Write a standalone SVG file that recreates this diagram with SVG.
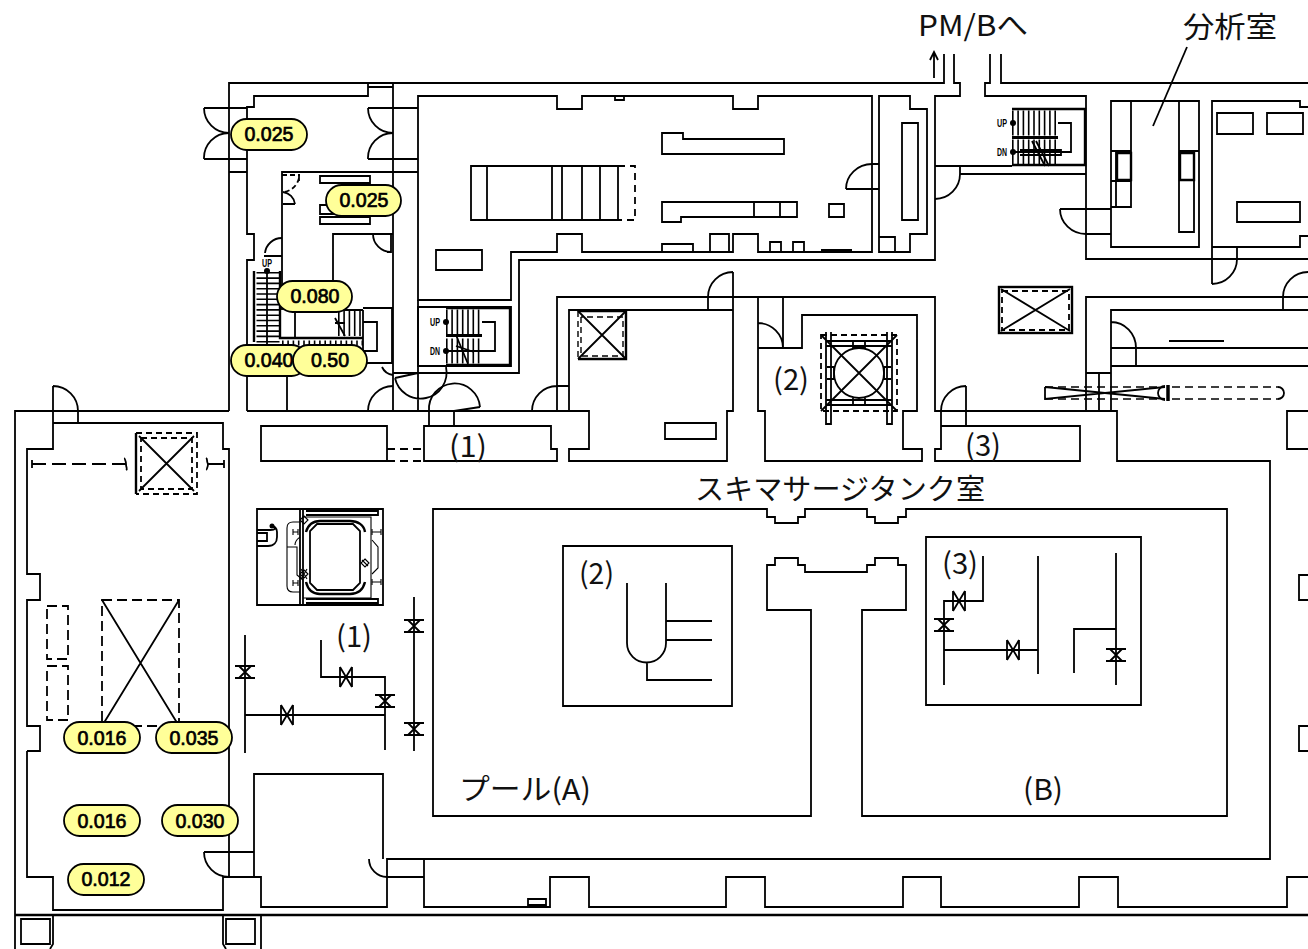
<svg xmlns="http://www.w3.org/2000/svg" width="1308" height="949" viewBox="0 0 1308 949">
<style>
.w{fill:none;stroke:#000;stroke-width:1.8}
.h{fill:none;stroke:#000;stroke-width:2.4}
.t{fill:none;stroke:#000;stroke-width:1.1}
.d{fill:none;stroke:#000;stroke-width:1.8;stroke-dasharray:8 5}
.tr{fill:none;stroke:#000;stroke-dasharray:1.6 3.7}
.p{fill:#ffff99;stroke:#000;stroke-width:1.8}
.v{font-family:"Liberation Sans",Arial,sans-serif;font-size:19.6px;text-anchor:middle;fill:#000;stroke:#000;stroke-width:.7}
.l{font-family:"Noto Sans CJK JP","Liberation Sans",sans-serif;font-size:29px;fill:#111}
.s{font-family:"Liberation Sans",Arial,sans-serif;font-weight:700;font-size:10px;fill:#000;text-anchor:middle}
</style>
<defs>
<g id="vv"><path class="w" d="M-10 -6H10M-10 6H10M-6 -6L6 6M6 -6L-6 6"/></g>
<g id="vh"><path class="w" d="M-6 -10V10M6 -10V10M-6 -10L6 10M-6 10L6 -10"/></g>
</defs>
<rect width="1308" height="949" fill="#fff"/>

<g id="walls">
<path class="w" d="M229 411V83H944V54M954 54V83H960V96H935V260H519V373H393M1001 54V83H1308M990 54V83H985V96H1086V259H1308"/>
<path class="w" d="M935 166H1012M960 166V174H1086M935 199A25 25 0 0 0 960 174"/>
<path class="w" d="M393 83V411M368 83V96H254V107H247V234H254V260H247V411M368 87H393"/>
<path class="w" d="M229 172H247M393 172H418M204 108H247M204 159H247M368 108H418M368 159H418"/>
<path class="w" d="M204 108A25 25 0 0 0 229 133M204 159A25 25 0 0 1 229 133M368 108A25 25 0 0 0 393 133M368 159A25 25 0 0 1 393 133"/>
<path class="w" d="M418 96H557V109H582V96H733V109H758V96H872V252H758V234H733V252H582V234H557V252H511V300H418Z"/>
<path class="w" d="M471 166H618V220H471ZM487 166V220M552 166V220M562 166V220M582 166V220M600 166V220"/>
<path class="d" style="stroke-dasharray:7 5" d="M618 166H635V220H618"/>
<path class="w" d="M662 133H683V139H784V154H662ZM662 202H797V217H681V222H662ZM754 202V217M780 202V217M829 204H844V217H829ZM436 250H482V270H436ZM662 244H693V252H662ZM710 234H729V252H710ZM770 242H781V252H770ZM793 242H804V252H793ZM615 96H624V100H615Z"/>
<rect x="821" y="249" width="31" height="3"/>
<path class="w" d="M879 96H910V109H927V234H910V252H879ZM902 123H918V220H902ZM879 237H895V252H879Z"/>
<path class="w" d="M846 189H879M872 164H879M846 189A26 25 0 0 1 872 164"/>
<path class="w" d="M1111 101H1199V247H1111ZM1131 101V207H1111M1111 151H1131M1111 181H1131M1116 152V207M1179 101V232H1194V151M1179 151H1199"/>
<path class="h" d="M1117 153H1131V180H1117ZM1180 153H1194V180H1180Z"/>
<path class="w" d="M1060 209H1111M1086 234H1111M1060 209A26 25 0 0 0 1086 234"/>
<path class="w" d="M1187 47L1153 126"/>
<path class="w" d="M1308 107H1300V101H1212V284M1212 247H1300V236H1308M1217 113H1253V134H1217ZM1267 113H1303V134H1267ZM1237 202H1300V222H1237ZM1237 247V259M1237 259A25 25 0 0 1 1212 284"/>
<path class="w" d="M520 411H557V297H935V411H1117M569 310H733V411H727V461H569V449H589V411H569ZM708 297V310M733 272V310M708 297A25 25 0 0 1 733 272M532 411A25 25 0 0 1 557 386M557 386H569"/>
<path class="w" d="M665 423H716V439H665Z"/>
<path class="w" d="M758 297V411H765V461H922V449H903V411H917V315H802V348H758M783 297V348M758 323A25 25 0 0 1 783 348"/>
<path class="h" d="M578 311H626V359H578"/>
<path class="w" d="M578 311L626 359M626 311L578 359"/>
<path class="d" style="stroke-width:1.4;stroke-dasharray:6 4" d="M578 311V359M581 317V356H623V317H581"/>
<g id="tank">
<circle class="w" cx="859" cy="373" r="25"/>
<path class="d" style="stroke-dasharray:6 4" d="M821 335H897V411H821Z"/>
<path class="w" d="M821 335L897 411M897 335L821 411M826 332V424H831V332M887 332V424H892V332M826 341H892M826 346H892M826 400H892M826 405H892M853 341V348H865V341M853 398V405H865V398M827 367H834V379H827M891 367H884V379H891"/>
</g>
<path class="w" d="M15 949V411H229M247 411H589M27 751H40V726H27V600H40V574H27V449H53V423H223V449H229V877M27 751V877H53V910H223V877H261V907H387V859H1270V461H1117V411H1086V297H1308M53 386V423M78 411V423M53 386A25 25 0 0 1 78 411"/>
<path class="w" d="M261 426H387V461H261ZM424 426H551V449H557V461H424Z"/>
<path class="d" d="M387 449H424M387 461H424"/>
<path class="w" d="M429 411V426M454 411V426M454 411L480 407M429 411A25.500 25.500 0 0 1 480 407"/>
<path class="w" d="M418 300V411M418 373L395 378M395 378A25.600 25.600 0 1 0 446 367M382 367A14 14 0 0 0 393 375M368 411A25 25 0 0 1 393 386"/>
<path class="w" d="M941 411V426M966 386V426M941 411A25 25 0 0 1 966 386M941 426H1080V461H935V449H941Z"/>
<path class="w" d="M1111 411V310H1308M1283 297V310M1283 297A25 25 0 0 1 1308 272M1111 348H1308M1111 366H1308M1136 348V366M1111 322A25 26 0 0 1 1136 348M1169 341H1224"/>
<path class="w" d="M1086 373H1111M1099 373V411M1308 411H1287V449H1308"/>
<path class="w" d="M1045 387V399L1165 387M1045 387L1165 399"/>
<path class="d" style="stroke-width:1.4" d="M1045 387H1165M1045 399H1165"/>
<path class="h" style="stroke-width:3.500" d="M1168 385V401"/>
<path class="w" d="M1165 386A7 7 0 0 0 1165 400"/>
<path class="d" style="stroke-width:1.4" d="M1172 387H1278M1172 399H1278"/>
<path class="w" d="M1278 387A6 6 0 0 1 1278 399"/>
<path class="w" d="M1308 575H1299V600H1308M1308 726H1299V751H1308"/>
<rect x="999" y="287" width="73" height="46" class="h"/>
<rect x="1002" y="291" width="67" height="39" class="d" style="stroke-dasharray:6 4"/>
<path class="w" d="M1001 289L1070 331M1070 289L1001 331"/>
<path class="h" d="M136 433V494"/>
<path class="d" style="stroke-dasharray:6 4" d="M136 433H197V494H136M141 438H192V489H141Z"/>
<path class="w" d="M139 436L194 491M194 436L139 491"/>
<path class="d" style="stroke-dasharray:14 6" d="M32 464H124"/>
<path class="w" d="M32 460V468M124 464H126C126 460 124 459 125 458M126 464C126 468 128 469 126 470M208 464H224M224 460V468M208 464C206 460 208 459 206 458M208 464C208 468 206 469 207 470"/>
<path class="d" style="stroke-dasharray:10 5" d="M47 606H68V659H47ZM47 666H68V720H47ZM102 600H179V726H102Z"/>
<path class="w" d="M102 600L179 726M179 600L102 726"/>
<path class="w" d="M254 877V774H383V859M204 852H254M204 852A25 25 0 0 0 229 877M369 859A18 18 0 0 0 387 877M387 877H424M424 859V907H550V877H589V907H726V877H765V907H903V877H941V907H1079V877H1118V907H1287V877H1308"/>
<path class="w" d="M528 899H546V905H528Z"/>
<path class="h" d="M15 915H1308"/>
<path class="w" d="M53 915V944L50 949M223 915V944L226 949M261 915V949M21 919H50V944H21ZM226 919H255V944H226Z"/>
<path class="w" d="M433 509H767V517H775V523H798V517H805V509H867V517H875V523H898V517H906V509H1227V816H862V610H906V565H898V558H875V565H867V572H805V565H798V558H775V565H767V610H811V816H433Z"/>
<path class="w" d="M563 546H732V706H563Z"/>
<path class="w" d="M627 583V643A19.500 19.500 0 0 0 666 643V583M666 621H712M666 640H712M647 662V680H712"/>
<path class="w" d="M926 537H1141V705H926Z"/>
<path class="w" d="M983 556V601H944V685M944 650H1038M1038 556V674M1116 553V685M1074 673V629H1116"/>
<use href="#vh" x="959" y="601"/><use href="#vv" x="944" y="625"/><use href="#vh" x="1013" y="650"/><use href="#vv" x="1116" y="655"/>
<path class="w" d="M245 635V753M245 715H385M385 750V677H321V640M414 597V751"/>
<use href="#vv" x="245" y="672"/><use href="#vh" x="287" y="715"/><use href="#vv" x="385" y="701"/><use href="#vh" x="346" y="677"/><use href="#vv" x="414" y="626"/><use href="#vv" x="414" y="729"/>
</g>

<g id="reactor">
<path class="w" d="M257 509H383V605H257Z"/>
<path class="w" d="M300 509V605M303 509V605M306 511H378M306 515H378M306 599H378M306 603H378M378 510V516M378 598V604"/>
<path class="t" d="M303 517H371V598H303"/>
<path class="w" d="M317 524H353L360 531V583L353 590H317L310 583V531Z"/>
<path class="h" d="M306 532C308 525 313 521 320 521H350C358 521 364 525 365 532M306 582C308 590 313 594 320 594H350C358 594 363 590 365 582"/>
<path class="t" d="M300 522H293C289 522 287 524 287 528V586C287 590 289 592 293 592H300M287 547H297V575L303 580M293 529V535M298 529V535M293 532H298M293 580V586M298 580V586M293 583H298M372 532H381M372 529V535M381 529V535M372 582H381M372 579V585M381 579V585M372 540L378 547V568L372 574M295 545C295 540 299 538 300 537"/>
<path class="t" d="M304 516L308 520L304 524L300 520ZM304 570L308 574L304 578L300 574ZM365 559L369 563L365 567L361 563ZM301 569L307 579M307 569L301 579M362 560L368 566"/>
<path class="w" d="M257 533H267V541H257M257 530H270C276 530 276 528 272 526M257 546H268C274 546 277 542 277 537V532C277 528 274 526 272 526"/>
<circle cx="272" cy="526" r="2.500"/>
</g>

<g id="stairs">
<path class="h" d="M254 271V342M280 271V338H363"/>
<path class="tr" stroke-width="23" d="M268 272V345"/>
<path class="w" d="M267 271V345M282 175V172H393M282 172V310"/>
<path class="w" style="stroke-dasharray:5 3" d="M282 175H300M299 176V181M299 178A18 18 0 0 1 284 192"/>
<path class="w" d="M283 192A14 14 0 0 1 295 204M283 204H295M320 176H370V183H320ZM320 205H370V214H320ZM320 217H370V224H320Z"/>
<path class="w" d="M333 300V234H393M373 234A18 18 0 0 0 391 252M391 234V252H387"/>
<path class="w" d="M282 238A17 17 0 0 0 265 253M264 256H282"/>
<path class="w" d="M295 310V338M287 375V411"/>
<path class="tr" stroke-width="5" d="M282 343H363"/>
<path class="w" stroke-width="2" d="M363 308H392V363H363"/>
<path class="w" d="M333 310H363M363 322H377V351H363M363 310V363"/>
<path class="tr" stroke-width="26" d="M338 323H363"/>
<path class="w" d="M335 318L345 336M335 323H345"/>
<text class="s" x="267" y="267" textLength="10" lengthAdjust="spacingAndGlyphs">UP</text>
<circle cx="267" cy="271" r="3"/>
<path class="w" d="M418 307H511V366H418Z"/>
<path class="h" d="M446 308H510V365H446"/>
<path class="tr" stroke-width="25" d="M446 322H482"/>
<path class="tr" stroke-width="25" d="M446 351H482"/>
<path class="h" style="stroke-width:3" d="M446 335.500H482"/>
<path class="w" d="M482 322H495V351H446"/>
<path class="w" d="M456 335L468 364M450 351H476M456 346L474 352"/>
<text class="s" x="435" y="326" textLength="10" lengthAdjust="spacingAndGlyphs">UP</text>
<text class="s" x="435" y="355" textLength="10" lengthAdjust="spacingAndGlyphs">DN</text>
<circle cx="446" cy="322" r="3"/><circle cx="446" cy="351" r="3"/>
<path class="h" d="M1012 109H1085V165H1012"/>
<path class="tr" stroke-width="25" d="M1012 123H1058"/>
<path class="tr" stroke-width="25" d="M1012 152H1058"/>
<path class="h" style="stroke-width:3" d="M1012 137.500H1058"/>
<path class="w" d="M1058 123H1071V152H1014M1032 141L1045 166M1036 141L1049 166M1020 150H1061V155H1020"/>
<text class="s" x="1002" y="127" textLength="10" lengthAdjust="spacingAndGlyphs">UP</text>
<text class="s" x="1002" y="156" textLength="10" lengthAdjust="spacingAndGlyphs">DN</text>
<circle cx="1013" cy="123" r="3"/><circle cx="1013" cy="152" r="3"/>
</g>

<g id="arrow"><path class="w" d="M934 78V52M930 60L934 52L938 60"/></g>

<g id="labels">
<text class="l" x="918" y="36" textLength="110" lengthAdjust="spacingAndGlyphs">PM/Bへ</text>
<text class="l" x="1183" y="38" textLength="94" lengthAdjust="spacingAndGlyphs">分析室</text>
<text class="l" x="695" y="500" textLength="290" lengthAdjust="spacingAndGlyphs">スキマサージタンク室</text>
<text class="l" x="449" y="457" textLength="38" lengthAdjust="spacingAndGlyphs">(1)</text>
<text class="l" x="773" y="390" textLength="36" lengthAdjust="spacingAndGlyphs">(2)</text>
<text class="l" x="965" y="456" textLength="36" lengthAdjust="spacingAndGlyphs">(3)</text>
<text class="l" x="336" y="647" textLength="36" lengthAdjust="spacingAndGlyphs">(1)</text>
<text class="l" x="579" y="584" textLength="35" lengthAdjust="spacingAndGlyphs">(2)</text>
<text class="l" x="942" y="574" textLength="36" lengthAdjust="spacingAndGlyphs">(3)</text>
<text class="l" x="459" y="800" textLength="132" lengthAdjust="spacingAndGlyphs">プール(A)</text>
<text class="l" x="1023" y="800" textLength="40" lengthAdjust="spacingAndGlyphs">(B)</text>
</g>

<g id="v1"><rect class="p" x="231" y="119" width="76" height="31" rx="15.500"/><text class="v" x="269" y="141">0.025</text></g>
<g id="v2"><rect class="p" x="326" y="185" width="75" height="31" rx="15.500"/><text class="v" x="364" y="207">0.025</text></g>
<g id="v3"><rect class="p" x="277" y="281" width="75" height="31" rx="15.500"/><text class="v" x="315" y="303">0.080</text></g>
<g id="v4"><rect class="p" x="231" y="345" width="76" height="31" rx="15.500"/><text class="v" x="269" y="367">0.040</text></g>
<g id="v5"><rect class="p" x="293" y="345" width="74" height="31" rx="15.500"/><text class="v" x="330" y="367">0.50</text></g>
<g id="v6"><rect class="p" x="64" y="722" width="76" height="31" rx="15.500"/><text class="v" x="102" y="745">0.016</text></g>
<g id="v7"><rect class="p" x="156" y="722" width="76" height="31" rx="15.500"/><text class="v" x="194" y="745">0.035</text></g>
<g id="v8"><rect class="p" x="64" y="805" width="76" height="31" rx="15.500"/><text class="v" x="102" y="828">0.016</text></g>
<g id="v9"><rect class="p" x="162" y="805" width="76" height="31" rx="15.500"/><text class="v" x="200" y="828">0.030</text></g>
<g id="v10"><rect class="p" x="68" y="864" width="76" height="31" rx="15.500"/><text class="v" x="106" y="886">0.012</text></g>
</svg>
